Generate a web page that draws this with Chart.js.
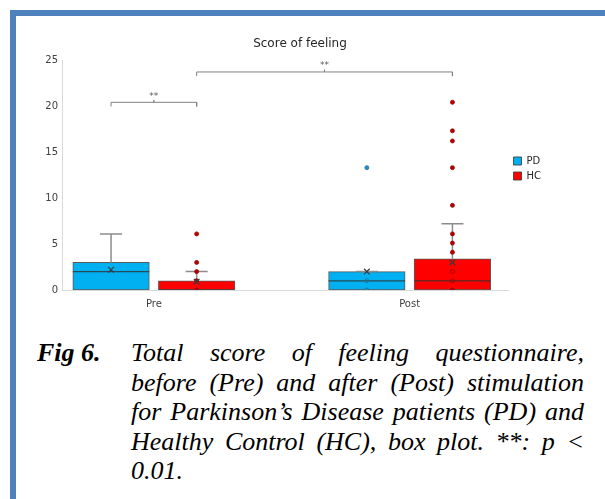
<!DOCTYPE html>
<html>
<head>
<meta charset="utf-8">
<script src="https://cdn.jsdelivr.net/npm/chart.js@4.4.1/dist/chart.umd.min.js"></script>
<style>
  html, body { margin: 0; padding: 0; background: #ffffff; }
  body { width: 605px; height: 499px; position: relative; overflow: hidden; }
  .frame-top  { position: absolute; left: 10px; top: 10px; width: 595px; height: 6px; background: #4f81bd; }
  .frame-left { position: absolute; left: 10px; top: 10px; width: 6px; height: 489px; background: #4f81bd; }
  #chart { position: absolute; left: 0; top: 0; }
  .cap { position: absolute; font-family: "Liberation Serif", "Times New Roman", serif; font-size: 26px; line-height: 26px; color: #000; font-style: italic; }
  .fig { left: 37px; font-weight: bold; }
  .line { left: 131px; width: 453px; text-align: justify; text-align-last: justify; }
  .line.last { text-align: left; text-align-last: left; }
</style>
</head>
<body>
<div class="frame-top"></div>
<div class="frame-left"></div>
<canvas id="chart" width="605" height="337"></canvas>

<div class="cap fig" style="top:340px">Fig 6.</div>
<div class="cap line" style="top:340px">Total score of feeling questionnaire,</div>
<div class="cap line" style="top:369.5px">before (Pre) and after (Post) stimulation</div>
<div class="cap line" style="top:399px">for Parkinson’s Disease patients (PD) and</div>
<div class="cap line" style="top:428.5px">Healthy Control (HC), box plot. **: p &lt;</div>
<div class="cap line last" style="top:458px">0.01.</div>

<script>
// Groups and series
const categories = ['Pre', 'Post'];
const seriesNames = ['PD', 'HC'];

// Box statistics per group (Pre, Post)
const pdQ1     = [0, 0];
const pdMedian = [2, 1];
const pdQ3     = [3, 2];
const pdMax    = [6.1, 2];
const pdMean   = [2.2, 2.0];

const hcQ1     = [0, 0];
const hcMedian = [0, 1];
const hcQ3     = [1, 3.4];
const hcMax    = [2, 7.2];
const hcMean   = [0.9, 3.0];

// Individual scores shown as dots
const pdPoints = [[], [13.3, 1, 0]];
const hcPoints = [[6.1, 3, 2, 1, 0], [20.4, 17.3, 16.2, 13.3, 9.2, 6.1, 5.1, 4.1, 2, 1, 0]];

// Value axis ticks
const yTicks = [0, 5, 10, 15, 20, 25];

// Significance brackets: [group, series] pairs, level and label
const sigFrom  = [[0, 0], [0, 1]];
const sigTo    = [[0, 1], [1, 1]];
const sigLevel = [20.4, 23.7];
const sigText  = ['**', '**'];

const colors = { PD: '#00b0f0', HC: '#ff0000' };
const dotFill = { PD: '#1d8fc6', HC: '#c00000' };
const dotEdge = { PD: '#2a6d95', HC: '#8a0000' };

// horizontal spread of the two series inside one group (x units)
const OFF = 0.1673;
const gx = (i, s) => i + 1 + (s === 0 ? -OFF : OFF);

const stats = [
  { q1: pdQ1, med: pdMedian, q3: pdQ3, max: pdMax, mean: pdMean, pts: pdPoints, name: seriesNames[0] },
  { q1: hcQ1, med: hcMedian, q3: hcQ3, max: hcMax, mean: hcMean, pts: hcPoints, name: seriesNames[1] }
];

const datasets = [];

// boxes (Q1..Q3) as floating bars
stats.forEach((st, s) => {
  datasets.push({
    type: 'bar',
    label: st.name,
    data: categories.map((c, i) => ({ x: gx(i, s), y: [st.q1[i], st.q3[i]] })),
    backgroundColor: colors[st.name],
    borderColor: 'rgba(60,60,60,0.85)',
    borderWidth: 1,
    borderSkipped: false,
    grouped: false,
    barPercentage: 1,
    categoryPercentage: 1,
    maxBarThickness: 76.5,
    order: 10,
    isBox: true
  });
});

// whiskers from Q3 up to the maximum
const whiskerData = [];
stats.forEach((st, s) => categories.forEach((c, i) => {
  if (st.max[i] > st.q3[i]) {
    whiskerData.push({ x: gx(i, s), y: st.q3[i] }, { x: gx(i, s), y: st.max[i] }, { x: gx(i, s), y: null });
  }
}));
datasets.push({
  type: 'line', label: 'whisker', data: whiskerData,
  borderColor: '#8c8c8c', borderWidth: 1.5, pointRadius: 0, spanGaps: false, order: 9
});

// whisker caps
datasets.push({
  type: 'scatter', label: 'cap',
  data: stats.flatMap((st, s) => categories.map((c, i) => ({ x: gx(i, s), y: st.max[i] }))),
  pointStyle: 'line', pointRadius: 11, borderColor: '#8c8c8c', borderWidth: 1.5, order: 8
});

// medians
datasets.push({
  type: 'scatter', label: 'median',
  data: stats.flatMap((st, s) => categories.map((c, i) => ({ x: gx(i, s), y: st.med[i] }))),
  pointStyle: 'line', pointRadius: 38.25, borderColor: 'rgba(50,50,50,0.8)', borderWidth: 1.2, order: 7
});

// individual scores
stats.forEach((st, s) => {
  const pts = [];
  categories.forEach((c, i) => st.pts[i].forEach(v => pts.push({ x: gx(i, s), y: v, inner: v > st.q1[i] && v < st.q3[i] })));
  datasets.push({
    type: 'scatter', label: st.name + ' points', data: pts,
    pointRadius: 2,
    pointBackgroundColor: ctx => (ctx.raw && ctx.raw.inner) ? 'rgba(0,0,0,0)' : dotFill[st.name],
    pointBorderColor: dotEdge[st.name],
    pointBorderWidth: 0.8,
    order: 5
  });
});

// means
datasets.push({
  type: 'scatter', label: 'mean',
  data: stats.flatMap((st, s) => categories.map((c, i) => ({ x: gx(i, s), y: st.mean[i] }))),
  pointStyle: 'crossRot', pointRadius: 4, borderColor: '#3a3a3a', borderWidth: 1.2, order: 4
});

// significance brackets
const bracketData = [];
sigLevel.forEach((lv, k) => {
  const x1 = gx(sigFrom[k][0], sigFrom[k][1]);
  const x2 = gx(sigTo[k][0], sigTo[k][1]);
  const xm = (x1 + x2) / 2;
  bracketData.push(
    { x: x1, y: lv - 0.45 }, { x: x1, y: lv }, { x: xm, y: lv }, { x: xm, y: lv + 0.25 },
    { x: xm, y: lv }, { x: x2, y: lv }, { x: x2, y: lv - 0.45 }, { x: x2, y: null }
  );
});
datasets.push({
  type: 'line', label: 'bracket', data: bracketData,
  borderColor: '#808080', borderWidth: 1, pointRadius: 0, spanGaps: false, order: 3
});

// star labels above the brackets
const sigLabels = {
  id: 'sigLabels',
  afterDatasetsDraw(chart) {
    const { ctx, scales: { x, y } } = chart;
    ctx.save();
    ctx.font = '9px "DejaVu Sans"';
    ctx.fillStyle = '#595959';
    ctx.textAlign = 'center';
    ctx.textBaseline = 'middle';
    sigLevel.forEach((lv, k) => {
      const xm = (gx(sigFrom[k][0], sigFrom[k][1]) + gx(sigTo[k][0], sigTo[k][1])) / 2;
      ctx.fillText(sigText[k], x.getPixelForValue(xm), y.getPixelForValue(lv) - 6);
    });
    ctx.restore();
  }
};

new Chart(document.getElementById('chart'), {
  data: { datasets },
  plugins: [sigLabels],
  options: {
    responsive: false,
    animation: false,
    devicePixelRatio: 1,
    layout: { padding: { left: 0, right: 5, top: 0, bottom: 0 } },
    plugins: {
      tooltip: { enabled: false },
      title: {
        display: true, text: 'Score of feeling', color: '#262626',
        font: { family: 'DejaVu Sans', size: 12, weight: 'normal' },
        padding: { top: 37, bottom: 8.6 }
      },
      legend: {
        position: 'right',
        labels: {
          filter: (item, data) => data.datasets[item.datasetIndex].isBox,
          boxWidth: 8, boxHeight: 8, padding: 5,
          color: '#262626',
          font: { family: 'DejaVu Sans', size: 10 }
        }
      }
    },
    scales: {
      x: {
        type: 'linear',
        offset: false,
        min: 0.6409, max: 2.3865,
        grid: { display: false, drawTicks: false },
        border: { color: '#d9d9d9', width: 1 },
        afterBuildTicks: s => { s.ticks = categories.map((c, i) => ({ value: i + 1 })); },
        afterFit: s => { s.height = 47; },
        ticks: {
          autoSkip: false, maxRotation: 0, padding: 8,
          color: '#404040', font: { family: 'DejaVu Sans', size: 10 },
          callback: v => categories[Math.round(v) - 1]
        }
      },
      y: {
        type: 'linear',
        min: yTicks[0], max: yTicks[yTicks.length - 1],
        grid: { display: false, drawTicks: false },
        border: { color: '#d9d9d9', width: 1 },
        afterBuildTicks: s => { s.ticks = yTicks.map(v => ({ value: v })); },
        afterFit: s => { s.width = 62; },
        ticks: {
          padding: 4,
          color: '#404040', font: { family: 'DejaVu Sans', size: 10 }
        }
      },
      // empty margin column to the right of the legend
      margin: {
        type: 'linear', position: 'right', weight: 2000,
        min: 0, max: 1,
        grid: { display: false, drawTicks: false },
        border: { display: false },
        ticks: { display: false },
        afterFit: s => { s.width = 49; }
      }
    }
  }
});
</script>
</body>
</html>
